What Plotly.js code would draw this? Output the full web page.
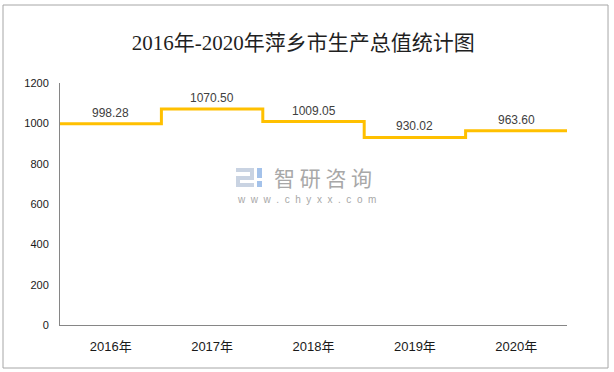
<!DOCTYPE html>
<html>
<head>
<meta charset="utf-8">
<script src="https://cdn.plot.ly/plotly-3.0.1.min.js"></script>
<style>html,body{margin:0;padding:0;background:#fff;}#chart{width:614px;height:372px;}</style>
</head>
<body>
<div id="chart"></div>
<script>
const categories = ["2016年", "2017年", "2018年", "2019年", "2020年"];
const values = [998.28, 1070.50, 1009.05, 930.02, 963.60];
const valueLabels = ["998.28", "1070.50", "1009.05", "930.02", "963.60"];
const yTicks = [0, 200, 400, 600, 800, 1000, 1200];

// step line: each category spans one unit band
const stepX = categories.map((c, i) => i).concat([categories.length]);
const stepY = values.concat([values[values.length - 1]]);
const centers = categories.map((c, i) => i + 0.5);

const trace = {
  x: stepX, y: stepY, type: 'scatter', mode: 'lines',
  line: {shape: 'hv', color: '#FFC000', width: 3},
  hoverinfo: 'skip'
};

const annotations = centers.map((cx, i) => ({
  x: cx, y: values[i], xref: 'x', yref: 'y', text: valueLabels[i],
  showarrow: false, yshift: 11, font: {family: 'Liberation Sans, Arial, sans-serif', size: 12, color: '#404040'}
}));
annotations.push({
  xref: 'paper', yref: 'paper', x: 0.519, y: 0.612, text: '智 研 咨 询', showarrow: false,
  font: {family: 'Noto Sans CJK SC', size: 21, color: '#a8a8a8'}
});
annotations.push({
  xref: 'paper', yref: 'paper', x: 0.487, y: 0.52, text: 'w  w  w  .  c  h  y  x  x  .  c  o  m', showarrow: false,
  font: {family: 'Liberation Sans, Arial, sans-serif', size: 10, color: '#a8a8a8'}
});

function px2x(px) { return (px - 60) / 507; }
function px2y(py) { return (325 - py) / 242; }
function logoRect(x0, y0, x1, y1, col) {
  return {type: 'rect', xref: 'paper', yref: 'paper', x0: px2x(x0), x1: px2x(x1), y0: px2y(y1), y1: px2y(y0),
          line: {width: 0}, fillcolor: col};
}

const logoGray = '#c9d3e2';
const logoBlue = '#a4c2ea';

const layout = {
  width: 614, height: 372,
  margin: {l: 60, r: 47, t: 83, b: 47},
  paper_bgcolor: '#ffffff', plot_bgcolor: '#ffffff',
  showlegend: false,
  title: {
    text: '2016年-2020年萍乡市生产总值统计图',
    x: 0.494, xanchor: 'center', y: 0.885, yanchor: 'middle',
    font: {family: 'Liberation Serif, Noto Sans CJK SC, serif', size: 21, color: '#1f1f1f'}
  },
  xaxis: {
    range: [0, categories.length], tickvals: centers, ticktext: categories,
    showgrid: false, zeroline: false, showline: true, linecolor: '#868686', linewidth: 1,
    ticks: '', ticklabelstandoff: 9, tickfont: {family: 'Liberation Sans, Noto Sans CJK SC, sans-serif', size: 13, color: '#1a1a1a'},
    fixedrange: true
  },
  yaxis: {
    range: [0, 1200], tickvals: yTicks, ticktext: yTicks.map(String),
    showgrid: false, zeroline: false, showline: true, linecolor: '#868686', linewidth: 1,
    ticks: '', ticklabelstandoff: 8, tickfont: {family: 'Liberation Sans, Arial, sans-serif', size: 11, color: '#1a1a1a'},
    fixedrange: true
  },
  annotations: annotations,
  shapes: [
    {type: 'rect', xref: 'paper', yref: 'paper', x0: -0.1124, x1: 1.0809, y0: -0.1777, y1: 1.3223,
     line: {color: '#a6a6a6', width: 1}, fillcolor: 'rgba(0,0,0,0)', layer: 'below'},
    // watermark logo
    logoRect(236, 168, 254, 172, logoGray),
    logoRect(250, 168, 254, 180, logoGray),
    logoRect(240, 176, 254, 180, logoGray),
    logoRect(236, 176, 240, 187, logoGray),
    logoRect(236, 183, 254, 187, logoGray),
    logoRect(257, 168, 262, 178, logoBlue),
    logoRect(257, 181, 262, 187, logoBlue)
  ]
};

Plotly.newPlot('chart', [trace], layout, {displayModeBar: false, staticPlot: true});
</script>
</body>
</html>
